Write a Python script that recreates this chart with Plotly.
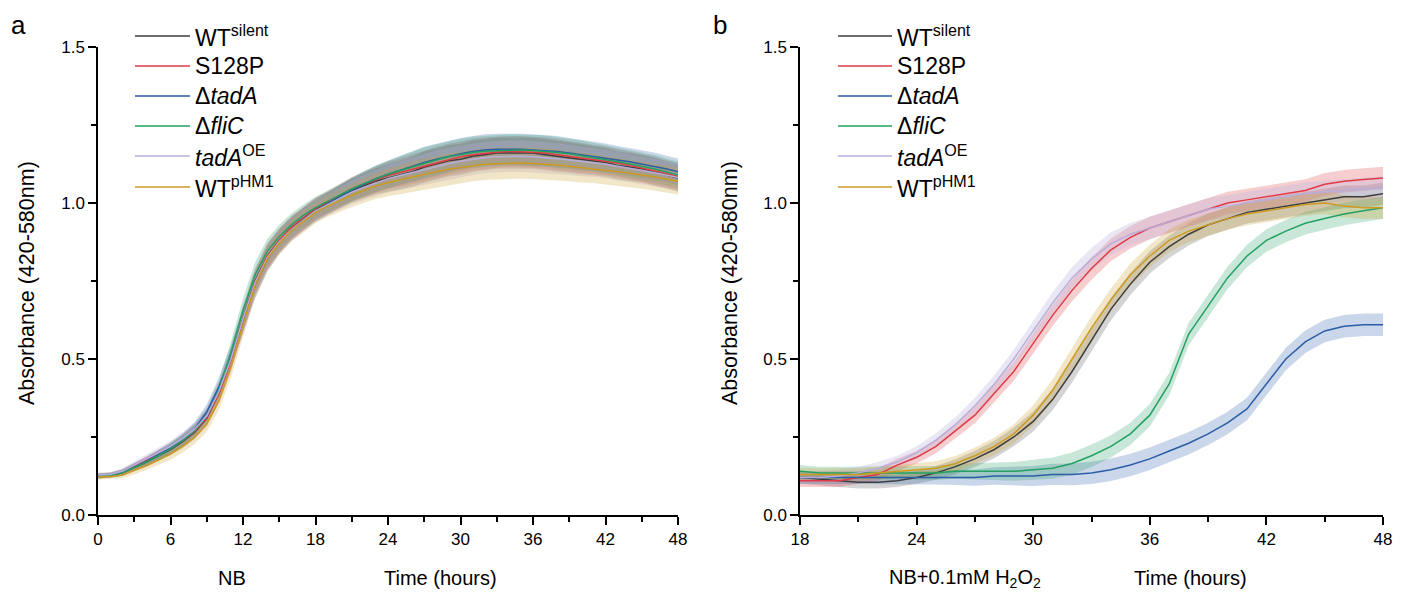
import plotly.graph_objects as go

# the page body has an 8px margin, so the figure is drawn 8px in from the corner
OFF = 8
W, H = 1405 - OFF, 592 - OFF

names = ['WT<sup>silent</sup>', 'S128P', 'Δ<i>tadA</i>', 'Δ<i>fliC</i>',
         '<i>tadA</i><sup>OE</sup>', 'WT<sup>pHM1</sup>']
colors = ['#3d3d3d', '#e03a45', '#2b5da6', '#23a062', '#b8aedb', '#cc9a22']
bands = ['rgba(61,61,61,0.22)', 'rgba(224,58,69,0.25)', 'rgba(43,93,166,0.25)',
         'rgba(35,160,98,0.25)', 'rgba(184,174,219,0.3)', 'rgba(204,154,34,0.25)']

# panel a: NB, hourly
t_nb = list(range(0, 49))
nb_wt = [0.125,0.127,0.135,0.152,0.170,0.190,0.210,0.235,0.265,0.310,0.390,0.500,0.630,0.750,0.830,0.880,0.920,0.950,0.980,1.000,1.020,1.040,1.055,1.070,1.080,1.090,1.100,1.115,1.125,1.135,1.140,1.150,1.155,1.160,1.160,1.160,1.160,1.155,1.150,1.145,1.140,1.135,1.130,1.120,1.115,1.110,1.100,1.090,1.080]
nb_s128p = [0.125,0.128,0.137,0.155,0.173,0.193,0.213,0.238,0.268,0.312,0.388,0.495,0.625,0.745,0.828,0.880,0.922,0.952,0.982,1.003,1.024,1.045,1.060,1.075,1.088,1.098,1.108,1.120,1.130,1.140,1.148,1.155,1.160,1.163,1.165,1.165,1.163,1.160,1.155,1.150,1.145,1.140,1.135,1.128,1.120,1.112,1.105,1.095,1.085]
nb_tada = [0.125,0.128,0.136,0.153,0.172,0.193,0.215,0.242,0.275,0.330,0.410,0.510,0.625,0.735,0.820,0.875,0.915,0.948,0.975,0.998,1.020,1.042,1.060,1.078,1.092,1.105,1.118,1.130,1.140,1.150,1.158,1.165,1.170,1.172,1.173,1.172,1.170,1.168,1.165,1.160,1.155,1.150,1.145,1.138,1.132,1.125,1.118,1.110,1.100]
nb_flic = [0.125,0.127,0.135,0.152,0.170,0.190,0.212,0.238,0.270,0.318,0.400,0.520,0.655,0.770,0.845,0.892,0.930,0.960,0.985,1.005,1.025,1.045,1.062,1.078,1.092,1.104,1.116,1.128,1.138,1.148,1.156,1.162,1.166,1.168,1.170,1.170,1.168,1.166,1.162,1.158,1.152,1.146,1.140,1.132,1.125,1.118,1.110,1.100,1.090]
nb_oe = [0.128,0.130,0.140,0.160,0.180,0.200,0.220,0.245,0.275,0.318,0.395,0.500,0.628,0.745,0.825,0.876,0.915,0.945,0.975,0.995,1.015,1.035,1.050,1.065,1.078,1.088,1.098,1.108,1.118,1.126,1.134,1.140,1.145,1.148,1.150,1.150,1.148,1.146,1.142,1.138,1.134,1.130,1.125,1.118,1.112,1.105,1.098,1.090,1.082]
nb_phm1 = [0.122,0.123,0.128,0.142,0.158,0.176,0.195,0.220,0.250,0.292,0.365,0.475,0.610,0.735,0.820,0.872,0.912,0.942,0.970,0.990,1.008,1.025,1.040,1.055,1.066,1.075,1.084,1.093,1.100,1.108,1.114,1.120,1.124,1.126,1.128,1.128,1.127,1.125,1.122,1.118,1.114,1.110,1.105,1.100,1.095,1.090,1.084,1.077,1.070]
sd_nb = [0.008,0.008,0.010,0.012,0.014,0.016,0.018,0.020,0.022,0.025,0.030,0.035,0.040,0.040,0.040,0.038,0.036,0.035,0.035,0.035,0.036,0.038,0.040,0.042,0.044,0.046,0.048,0.050,0.050,0.050,0.050,0.050,0.050,0.050,0.050,0.050,0.050,0.050,0.050,0.048,0.048,0.046,0.046,0.045,0.045,0.044,0.044,0.043,0.043]

# panel b: NB + 0.1mM H2O2, hourly from 18 h
t_h2 = list(range(18, 49))
h2_wt = [0.120,0.115,0.110,0.105,0.105,0.110,0.120,0.135,0.155,0.180,0.210,0.250,0.300,0.370,0.460,0.560,0.660,0.740,0.810,0.860,0.900,0.930,0.950,0.970,0.980,0.990,1.000,1.010,1.020,1.020,1.030]
h2_s128p = [0.110,0.110,0.110,0.120,0.130,0.160,0.185,0.220,0.270,0.320,0.390,0.460,0.550,0.640,0.720,0.790,0.850,0.890,0.920,0.940,0.960,0.980,1.000,1.010,1.020,1.030,1.040,1.060,1.070,1.075,1.080]
h2_tada = [0.120,0.120,0.120,0.120,0.120,0.120,0.120,0.120,0.120,0.120,0.125,0.125,0.125,0.130,0.130,0.135,0.145,0.160,0.180,0.205,0.230,0.260,0.295,0.340,0.420,0.500,0.555,0.590,0.605,0.610,0.610]
h2_flic = [0.140,0.135,0.135,0.135,0.135,0.135,0.135,0.135,0.140,0.140,0.140,0.140,0.145,0.150,0.165,0.190,0.220,0.260,0.320,0.420,0.580,0.670,0.760,0.830,0.880,0.910,0.935,0.950,0.965,0.975,0.985]
h2_oe = [0.120,0.120,0.125,0.135,0.150,0.170,0.200,0.240,0.290,0.350,0.420,0.500,0.590,0.680,0.760,0.820,0.870,0.900,0.920,0.940,0.960,0.980,0.990,1.000,1.010,1.020,1.030,1.035,1.040,1.045,1.050]
h2_phm1 = [0.130,0.130,0.130,0.130,0.135,0.140,0.145,0.150,0.165,0.190,0.220,0.260,0.320,0.400,0.500,0.600,0.690,0.770,0.830,0.880,0.910,0.930,0.950,0.965,0.975,0.985,0.995,1.000,0.990,0.985,0.985]
sd_h2 = [0.020,0.020,0.020,0.020,0.020,0.020,0.020,0.022,0.024,0.026,0.028,0.030,0.032,0.034,0.035,0.036,0.036,0.036,0.036,0.036,0.036,0.036,0.036,0.036,0.036,0.036,0.036,0.036,0.036,0.036,0.036]

panels = [
    ('x', 'y', t_nb, [nb_wt, nb_s128p, nb_tada, nb_flic, nb_oe, nb_phm1], sd_nb),
    ('x2', 'y2', t_h2, [h2_wt, h2_s128p, h2_tada, h2_flic, h2_oe, h2_phm1], sd_h2),
]

fig = go.Figure()
for xa, ya, t, series, sd in panels:
    # bands first so the mean lines sit on top
    for i, ys in enumerate(series):
        upper = [v + s for v, s in zip(ys, sd)]
        lower = [v - s for v, s in zip(ys, sd)]
        fig.add_trace(go.Scatter(x=t, y=upper, xaxis=xa, yaxis=ya, mode='lines',
                                 line=dict(width=0), showlegend=False, hoverinfo='skip'))
        fig.add_trace(go.Scatter(x=t, y=lower, xaxis=xa, yaxis=ya, mode='lines',
                                 line=dict(width=0), fill='tonexty', fillcolor=bands[i],
                                 showlegend=False, hoverinfo='skip'))
    for i, ys in enumerate(series):
        fig.add_trace(go.Scatter(x=t, y=ys, xaxis=xa, yaxis=ya, mode='lines',
                                 line=dict(color=colors[i], width=1.5),
                                 name=names[i], showlegend=False))


# page pixel -> paper fraction
def px(x):
    return (x - OFF) / W


def py(y):
    return 1 - (y - OFF) / H


font = 'Liberation Sans, Arial, sans-serif'
axis_common = dict(showline=True, linecolor='black', linewidth=1.5, ticks='outside',
                   ticklen=8, tickwidth=1.5, tickcolor='black', showgrid=False,
                   zeroline=False, automargin=False,
                   tickfont=dict(family=font, size=17, color='black'))
minor = dict(ticks='outside', ticklen=5, tickwidth=1.5, tickcolor='black')
ydom = [py(515), py(47)]

fig.update_layout(
    width=W, height=H,
    margin=dict(l=0, r=0, t=0, b=0),
    paper_bgcolor='white', plot_bgcolor='white',
    showlegend=False,
    font=dict(family=font, color='black'),
    xaxis=dict(domain=[px(98), px(678)], range=[0, 48], tickvals=list(range(0, 49, 6)),
               minor=dict(dtick=3, **minor), anchor='y', **axis_common),
    yaxis=dict(domain=ydom, range=[0, 1.5], dtick=0.5, tickformat='.1f',
               minor=dict(dtick=0.25, **minor), anchor='x', **axis_common),
    xaxis2=dict(domain=[px(800), px(1383)], range=[18, 48], tickvals=list(range(18, 49, 6)),
                minor=dict(dtick=3, **minor), anchor='y2', **axis_common),
    yaxis2=dict(domain=ydom, range=[0, 1.5], dtick=0.5, tickformat='.1f',
                minor=dict(dtick=0.25, **minor), anchor='x2', **axis_common),
)

annotations = []
shapes = []


def text(x, y, s, size=20, anchor='center', angle=0, yanchor='middle'):
    annotations.append(dict(x=px(x), y=py(y), xref='paper', yref='paper', text=s,
                            showarrow=False, xanchor=anchor, yanchor=yanchor,
                            textangle=angle, font=dict(family=font, size=size, color='black')))


# hand-drawn legends, one per panel
rows = [36, 66, 96, 126, 156, 187]
for x0, x1, xt in [(135, 190, 193), (838, 892, 895)]:
    for i, r in enumerate(rows):
        shapes.append(dict(type='line', xref='paper', yref='paper', x0=px(x0), x1=px(x1),
                           y0=py(r), y1=py(r), line=dict(color=colors[i], width=1.5)))
        text(xt, r, names[i], size=23, anchor='left')

text(18, OFF, 'a', size=26, yanchor='top')
text(720, OFF, 'b', size=26, yanchor='top')
text(27, 283, 'Absorbance (420-580nm)', size=21.5, angle=-90)
text(730, 283, 'Absorbance (420-580nm)', size=21.5, angle=-90)
text(232, 578, 'NB')
text(440, 578, 'Time (hours)')
text(965, 578, 'NB+0.1mM H<sub>2</sub>O<sub>2</sub>')
text(1190, 578, 'Time (hours)')

fig.update_layout(annotations=annotations, shapes=shapes)
fig.write_html('out.html')
